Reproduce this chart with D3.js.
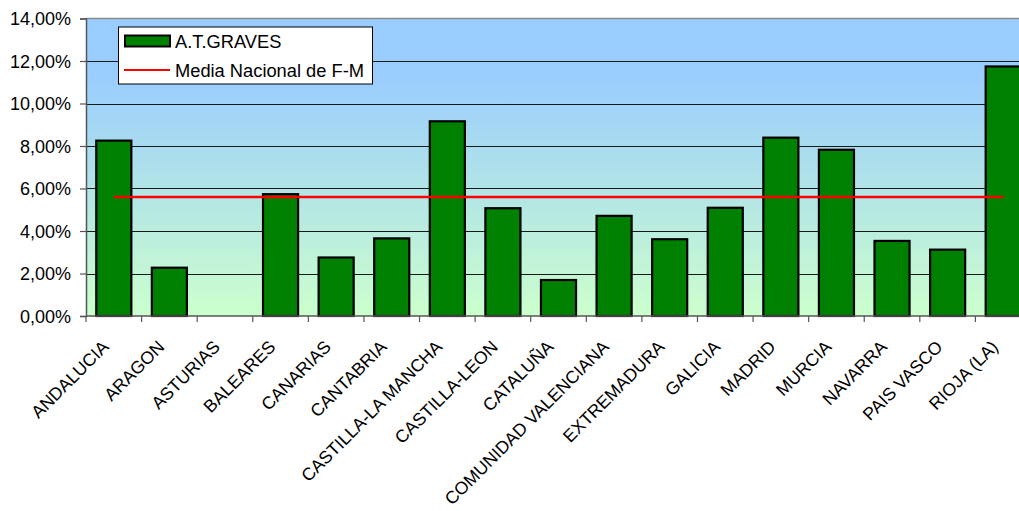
<!DOCTYPE html>
<html><head><meta charset="utf-8">
<script src="https://cdn.jsdelivr.net/npm/d3@7/dist/d3.min.js"></script>
<style>
html,body{margin:0;padding:0;background:#fff;overflow:hidden}
text{font-family:"Liberation Sans",Arial,sans-serif;fill:#000}
</style></head>
<body>
<svg id="c" width="1019" height="511"></svg>
<script>
const categories = ["ANDALUCIA","ARAGON","ASTURIAS","BALEARES","CANARIAS","CANTABRIA","CASTILLA-LA MANCHA","CASTILLA-LEON","CATALUÑA","COMUNIDAD VALENCIANA","EXTREMADURA","GALICIA","MADRID","MURCIA","NAVARRA","PAIS VASCO","RIOJA (LA)"];
const graves = [8.30,2.32,0,5.78,2.80,3.70,9.21,5.12,1.74,4.76,3.66,5.14,8.44,7.87,3.58,3.17,11.79];
const mediaNacional = 5.60;
const yTicks = [0,2,4,6,8,10,12,14];
const seriesNames = ["A.T.GRAVES","Media Nacional de F-M"];

(function(){
const svg = d3.select("#c");
const pL = 86, pR = 1031, pT = 18.5, pB = 316;
const fs = 18;

const x = d3.scaleBand().domain(categories).range([pL, pR]).paddingInner(1/3).paddingOuter(1/6);
const step = x.step();
const y = d3.scaleLinear().domain([0,14]).range([pB, pT]);

const defs = svg.append("defs");
const g = defs.append("linearGradient").attr("id","bg").attr("x1",0).attr("y1",0).attr("x2",0).attr("y2",1);
g.append("stop").attr("offset","0").attr("stop-color","#99CCFF");
g.append("stop").attr("offset","0.18").attr("stop-color","#99CCFF");
g.append("stop").attr("offset","1").attr("stop-color","#CCFFCC");

svg.append("rect").attr("x",pL).attr("y",pT).attr("width",pR-pL).attr("height",pB-pT).attr("fill","url(#bg)");
svg.append("line").attr("x1",pL).attr("x2",pR).attr("y1",pT).attr("y2",pT).attr("stroke","#8a8a8a").attr("stroke-width",1.5);

// gridlines
svg.append("g").selectAll("line").data(yTicks.filter(d=>d>0 && d<14)).join("line")
  .attr("x1",pL).attr("x2",pR).attr("y1",d=>Math.round(y(d))+0.5).attr("y2",d=>Math.round(y(d))+0.5)
  .attr("stroke","#1a1a1a").attr("stroke-width",1);

// y axis
const yAxis = d3.axisLeft(y).tickValues(yTicks).tickSize(6).tickFormat(d=>d3.format(".2f")(d).replace(".",",")+"%");
const ya = svg.append("g").attr("transform",`translate(${pL},0)`).call(yAxis);
ya.select(".domain").attr("stroke","#555").attr("stroke-width",1.5);
ya.selectAll(".tick line").attr("stroke","#555").attr("stroke-width",1.2);
ya.selectAll(".tick text").attr("font-size",fs).attr("font-family","Liberation Sans, Arial").attr("fill","#000").attr("x",-15).attr("dy","0.34em");

// bars
svg.append("g").selectAll("rect").data(categories).join("rect")
  .attr("x",(d)=>x(d)+1).attr("width",x.bandwidth()-2)
  .attr("y",(d,i)=>y(graves[i])+1).attr("height",(d,i)=>Math.max(0,pB-y(graves[i])-1))
  .attr("fill",(d,i)=>graves[i]>0?"#008000":"none").attr("stroke",(d,i)=>graves[i]>0?"#000":"none").attr("stroke-width",2.2);

// x axis
svg.append("line").attr("x1",pL).attr("x2",pR).attr("y1",pB).attr("y2",pB).attr("stroke","#555").attr("stroke-width",1.5);
svg.append("g").selectAll("line").data(categories.concat(["__end"])).join("line")
  .attr("x1",(d,i)=>pL+i*step).attr("x2",(d,i)=>pL+i*step)
  .attr("y1",pB).attr("y2",pB+6).attr("stroke","#555").attr("stroke-width",1.2);

// x labels
svg.append("g").selectAll("text").data(categories).join("text")
  .attr("transform",d=>`translate(${x(d)+x.bandwidth()/2-4},${pB+32}) rotate(-45)`)
  .attr("text-anchor","end").attr("font-size",17.6).text(d=>d);

// media line
const cx = d=>x(d)+x.bandwidth()/2;
svg.append("line").attr("x1",cx(categories[0])).attr("x2",cx(categories[categories.length-1]))
  .attr("y1",y(mediaNacional)).attr("y2",y(mediaNacional)).attr("stroke","#FF0000").attr("stroke-width",2.6);

// legend
const lg = svg.append("g");
lg.append("rect").attr("x",118.5).attr("y",27).attr("width",254).attr("height",57).attr("fill","#fff").attr("stroke","#000").attr("stroke-width",1);
lg.append("rect").attr("x",125).attr("y",35.5).attr("width",45).attr("height",11).attr("fill","#008000").attr("stroke","#000").attr("stroke-width",2);
lg.append("text").attr("x",175).attr("y",47.5).attr("font-size",18.3).text(seriesNames[0]);
lg.append("line").attr("x1",124).attr("x2",170).attr("y1",70).attr("y2",70).attr("stroke","#FF0000").attr("stroke-width",2.2);
lg.append("text").attr("x",175).attr("y",77).attr("font-size",18.3).text(seriesNames[1]);
})();
</script>
</body></html>
